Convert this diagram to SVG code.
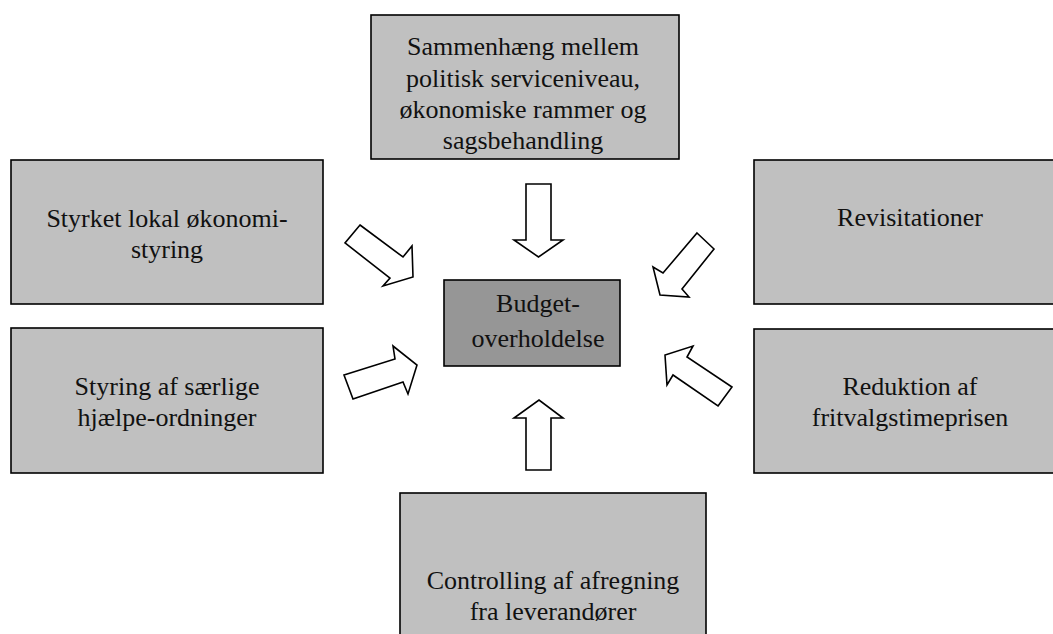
<svg xmlns="http://www.w3.org/2000/svg" width="1053" height="634" viewBox="0 0 1053 634">
<style>
.box{fill:#c0c0c0;stroke:#000;stroke-width:1.6}
.ctr{fill:#969696;stroke:#000;stroke-width:1.6}
.arr{fill:#fff;stroke:#000;stroke-width:1.6;stroke-linejoin:miter}
.t{font-family:'Liberation Serif',serif;font-size:26px;fill:#111;text-anchor:middle}
</style>
<rect width="1053" height="634" fill="#fff"/>
<g id="top"><rect class="box" x="371" y="15" width="308" height="144"/>
<text class="t" x="523" y="55">Sammenhæng mellem</text><text class="t" x="523" y="87">politisk serviceniveau,</text><text class="t" x="523" y="118">økonomiske rammer og</text><text class="t" x="523" y="149">sagsbehandling</text></g>
<g id="lefttop"><rect class="box" x="11" y="160" width="312" height="144"/>
<text class="t" x="167" y="227">Styrket lokal økonomi-</text><text class="t" x="167" y="258">styring</text></g>
<g id="leftbottom"><rect class="box" x="11" y="328" width="312" height="145"/>
<text class="t" x="167" y="395">Styring af særlige</text><text class="t" x="167" y="426">hjælpe-ordninger</text></g>
<g id="righttop"><rect class="box" x="754" y="160" width="312" height="144"/>
<text class="t" x="910" y="226">Revisitationer</text></g>
<g id="rightbottom"><rect class="box" x="754" y="329" width="312" height="144"/>
<text class="t" x="910" y="395">Reduktion af</text><text class="t" x="910" y="426">fritvalgstimeprisen</text></g>
<g id="bottom"><rect class="box" x="400" y="493" width="306" height="146"/>
<text class="t" x="553" y="589">Controlling af afregning</text><text class="t" x="553" y="620">fra leverandører</text></g>
<g id="center"><rect class="ctr" x="444" y="280" width="176" height="86"/>
<text class="t" x="538" y="312">Budget-</text><text class="t" x="538" y="347">overholdelse</text></g>
<g id="connectors">
<polygon class="arr" points="526,184 551,184 551,240 563,240 538.5,257 514,240 526,240"/>
<polygon class="arr" points="526,470 551,470 551,418 563,418 539,400 514,418 526,418"/>
<polygon class="arr" points="360,225 403,257 412,246 413,277 383,286 390,278 345,243"/>
<polygon class="arr" points="697,233 714,249 682,289 689,297 660,295 653,267 663,273"/>
<polygon class="arr" points="344,375 395,359 393,346 417,365 408,394 403,382 353,399"/>
<polygon class="arr" points="718,406 732,387 687,357 693,346 665,355 667,385 673,375"/>
</g>
</svg>
